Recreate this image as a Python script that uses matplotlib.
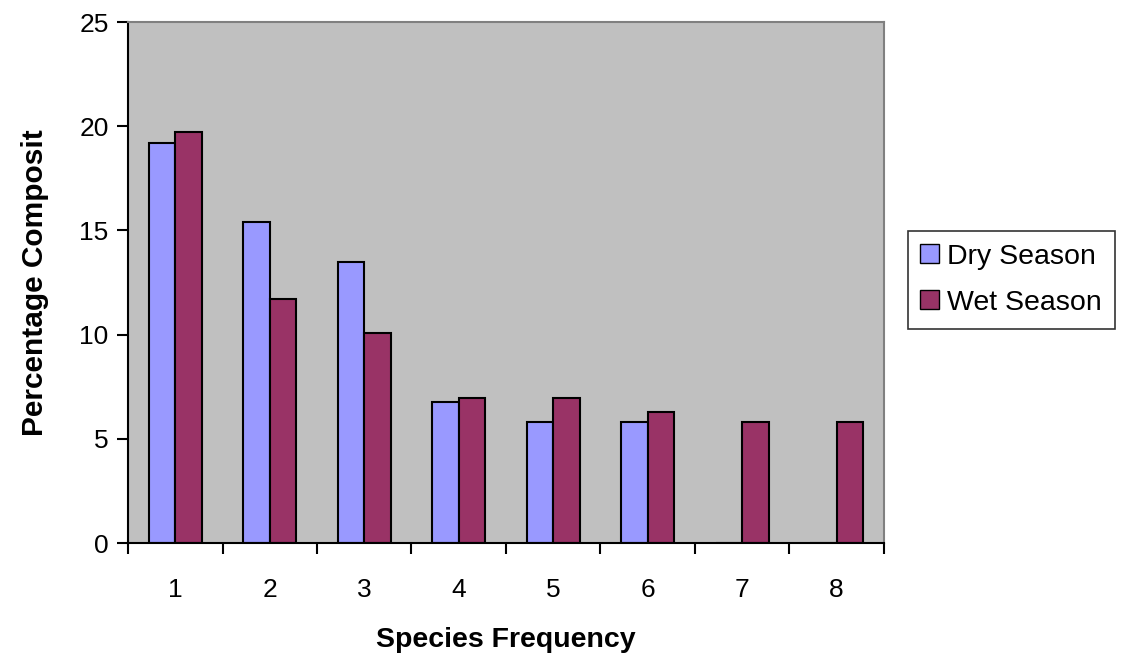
import matplotlib.pyplot as plt
from matplotlib.patches import Patch
import numpy as np

plt.rcParams['font.family'] = ['Liberation Sans', 'DejaVu Sans']

# Species frequency categories and percentage composition per season
categories = ['1', '2', '3', '4', '5', '6', '7', '8']
dry_season = [19.2, 15.4, 13.5, 6.75, 5.8, 5.8, 0, 0]
wet_season = [19.7, 11.7, 10.1, 6.95, 6.95, 6.3, 5.8, 5.8]

dry_color = '#9999ff'
wet_color = '#993366'

fig = plt.figure(figsize=(11.26, 6.57), dpi=100)
ax = fig.add_axes([0.1137, 0.1735, 0.6713, 0.793])
ax.set_facecolor('#c0c0c0')

x = np.arange(len(categories))
w = 0.28
ax.bar(x - w / 2, dry_season, w, color=dry_color, edgecolor='black', linewidth=1.5)
ax.bar(x + w / 2, wet_season, w, color=wet_color, edgecolor='black', linewidth=1.5)

ax.set_xlim(-0.5, len(categories) - 0.5)
ax.set_ylim(0, 25)
ax.set_yticks([0, 5, 10, 15, 20, 25])
ax.set_xticks(x)
ax.set_xticklabels(categories)
ax.set_xticks(np.arange(-0.5, len(categories)), minor=True)
ax.tick_params(axis='x', which='major', length=0, labelsize=19, pad=25)
ax.tick_params(axis='x', which='minor', length=8, width=1.5, direction='out')
ax.tick_params(axis='y', length=8, width=1.5, labelsize=19, pad=6)

for side in ['left', 'bottom']:
    ax.spines[side].set_linewidth(1.5)
    ax.spines[side].set_color('black')
for side in ['top', 'right']:
    ax.spines[side].set_color('#808080')
    ax.spines[side].set_linewidth(1.5)

ax.set_xlabel('Species Frequency', fontsize=20.5, fontweight='bold', labelpad=18)
ax.set_ylabel('Percentage Composit', fontsize=21.5, fontweight='bold', labelpad=22)

handles = [Patch(facecolor=dry_color, edgecolor='black', label='Dry Season'),
           Patch(facecolor=wet_color, edgecolor='black', label='Wet Season')]
leg = fig.legend(handles=handles, loc='center left', bbox_to_anchor=(0.806, 0.574),
                 fontsize=20.5, frameon=True, fancybox=False, edgecolor='black',
                 handlelength=0.65, handleheight=0.65, handletextpad=0.3,
                 borderpad=0.45, labelspacing=0.7, borderaxespad=0)
leg.get_frame().set_linewidth(1.2)

fig.savefig('out.png', dpi=100)
